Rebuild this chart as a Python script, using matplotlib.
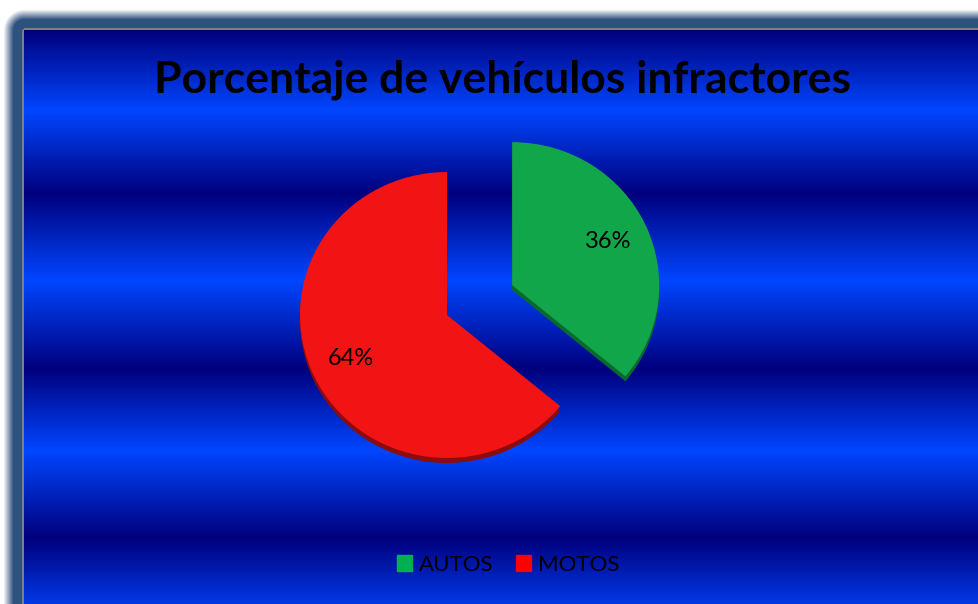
import numpy as np
import matplotlib
matplotlib.use("Agg")
import matplotlib.pyplot as plt

# data
categories = ["AUTOS", "MOTOS"]
percentages = [36, 64]
pie_colors = ["#12a64b", "#f21414"]
edge_colors = ["#0a6a2e", "#8c0b0b"]
legend_colors = ["#00b050", "#ff0000"]
title = "Porcentaje de vehículos infractores"

W, H = 979, 604
fig = plt.figure(figsize=(W / 100, H / 100), dpi=100)
plt.rcParams["font.family"] = ["Lato", "DejaVu Sans"]

# background: white page, soft shadow, grey frame line, banded blue fill
yy, xx = np.mgrid[0:H, 0:W].astype(float)
x0, y0 = 24, 30
dx = np.clip(x0 - xx, 0, None)
dy = np.clip(y0 - yy, 0, None)
d = np.hypot(dx, dy)
img = np.ones((H, W, 3))
shadow = np.array([45, 82, 125]) / 255
alpha = np.clip((21 - d) / 10, 0, 1)[..., None]
img = img * (1 - alpha) + shadow * alpha

band_y = [30, 110, 193, 280, 368, 450, 537, 620]
band_t = [0, 1, 0, 1, 0, 1, 0, 1]
t = np.interp(np.arange(H), band_y, band_t)[:, None, None]
dark = np.array([0, 0, 125]) / 255
bright = np.array([0, 70, 255]) / 255
blue = dark + (bright - dark) * t
inside = (d == 0)[..., None]
img = np.where(inside, np.broadcast_to(blue, img.shape), img)
line = ((d > 0) & (d <= 2))[..., None]
img = np.where(line, 0.5, img)

bg = fig.add_axes([0, 0, 1, 1])
bg.imshow(img, extent=(0, W, H, 0), aspect="auto", interpolation="bilinear")
bg.axis("off")

# pie axes: 1 data unit = 147 px across, 143 px down (slight 3D tilt)
Rx, Ry = 147.0, 143.0
cx, cy = 447, 315
ax = fig.add_axes([0, 0, 1, 1])
ax.patch.set_alpha(0)
explode = [0.49, 0]

# darker copy slightly below for the 3D edge
ax.pie(percentages, colors=edge_colors, startangle=90, counterclock=False,
       explode=explode, center=(0, -0.035))
wedges, texts, autotexts = ax.pie(
    percentages, colors=pie_colors, startangle=90, counterclock=False,
    explode=explode, autopct="%1.0f%%", pctdistance=0.72,
    textprops=dict(fontsize=17, color="black"))

ax.set_aspect("auto")
ax.set_xlim(-cx / Rx, (W - cx) / Rx)
ax.set_ylim((cy - H) / Ry, cy / Ry)
ax.axis("off")

fig.text(503 / W, 1 - 80 / H, title, ha="center", va="center",
         fontsize=32, fontweight="bold", color="black")

handles = [plt.Rectangle((0, 0), 1, 1, color=c) for c in legend_colors]
fig.legend(handles, categories, loc="center", bbox_to_anchor=(508 / W, 1 - 565 / H),
           ncol=2, frameon=False, fontsize=16, handlelength=0.7, handleheight=0.7,
           handletextpad=0.3, columnspacing=1.0, labelcolor="black")

fig.savefig("out.png", dpi=100)
